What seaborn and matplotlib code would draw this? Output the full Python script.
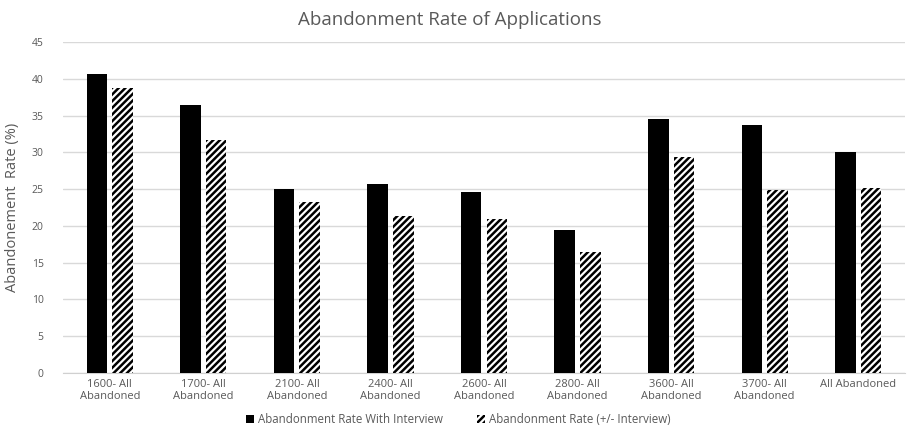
import matplotlib
matplotlib.use("Agg")
import matplotlib.pyplot as plt
import seaborn as sns
import pandas as pd
from matplotlib.patches import Patch

categories = ["1600- All\nAbandoned", "1700- All\nAbandoned", "2100- All\nAbandoned",
              "2400- All\nAbandoned", "2600- All\nAbandoned", "2800- All\nAbandoned",
              "3600- All\nAbandoned", "3700- All\nAbandoned", "All Abandoned"]
with_interview = [40.6, 36.4, 25.0, 25.7, 24.6, 19.4, 34.5, 33.7, 30.0]
plus_minus_interview = [38.7, 31.7, 23.2, 21.3, 20.9, 16.5, 29.4, 24.9, 25.1]
series_names = ["Abandonment Rate With Interview", "Abandonment Rate (+/- Interview)"]

df = pd.DataFrame({
    "category": categories * 2,
    "rate": with_interview + plus_minus_interview,
    "series": [series_names[0]] * len(categories) + [series_names[1]] * len(categories),
})

sns.set_style("white")
plt.rcParams["font.family"] = ["Open Sans", "DejaVu Sans"]
plt.rcParams["hatch.linewidth"] = 1.8

grey = "#595959"
fig = plt.figure(figsize=(9.07, 4.32), dpi=100)
ax = fig.add_axes([63 / 907, 1 - 373 / 432, 842 / 907, 331 / 432])

sns.barplot(data=df, x="category", y="rate", hue="series", order=categories,
            hue_order=series_names, palette=["black", "white"], width=0.55, gap=0.2,
            ax=ax, legend=False, zorder=3)

for bar in ax.containers[0]:
    bar.set_edgecolor("black")
    bar.set_linewidth(0)
for bar in ax.containers[1]:
    bar.set_facecolor("white")
    bar.set_edgecolor("black")
    bar.set_hatch("/////")
    bar.set_linewidth(0)

ax.set_ylim(0, 45)
ax.set_yticks(range(0, 46, 5))
ax.yaxis.grid(True, color="#d9d9d9", linewidth=1, zorder=0)
ax.set_axisbelow(True)
for side in ["top", "right", "left"]:
    ax.spines[side].set_visible(False)
ax.spines["bottom"].set_color("#d0d0d0")
ax.tick_params(axis="both", length=0, colors=grey)
ax.tick_params(axis="x", labelsize=8, pad=4)
ax.tick_params(axis="y", labelsize=7.5, pad=14)
ax.set_xlabel("")
ax.set_ylabel("Abandonement  Rate (%)", color=grey, fontsize=10.5, labelpad=8)

fig.suptitle("Abandonment Rate of Applications", x=0.496, y=0.975, color=grey,
             fontsize=13.5)

handles = [Patch(facecolor="black", edgecolor="black", linewidth=0),
           Patch(facecolor="white", edgecolor="black", hatch="/////", linewidth=0)]
fig.legend(handles, series_names, loc="center", bbox_to_anchor=(0.505, 0.028),
           ncol=2, frameon=False, fontsize=8.3, labelcolor=grey,
           handlelength=0.7, handleheight=0.7, handletextpad=0.3, columnspacing=3)

fig.savefig("out.png", dpi=100)
